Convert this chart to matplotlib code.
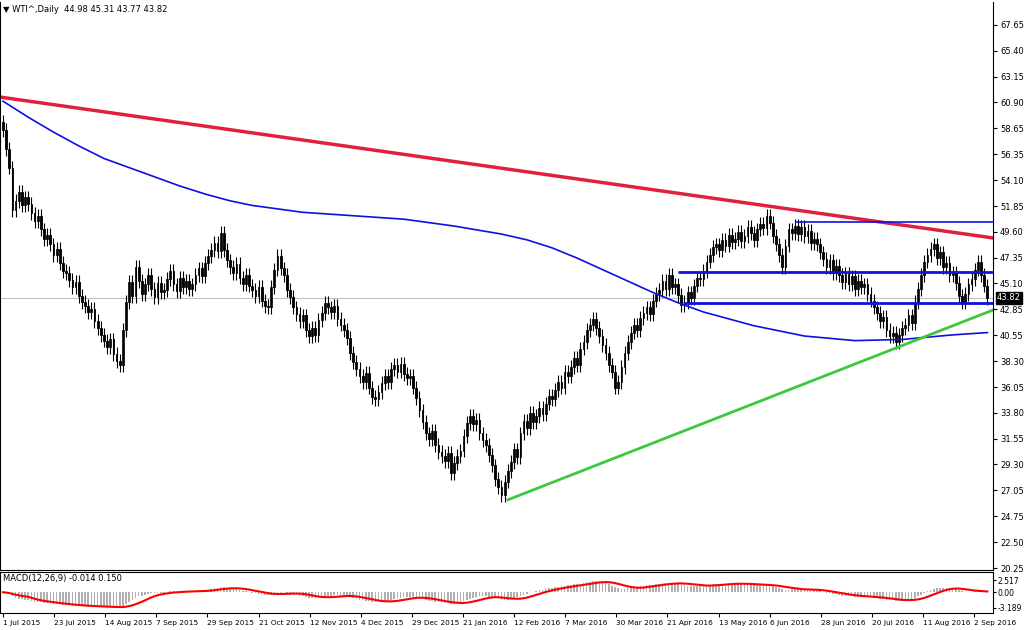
import numpy as np
import pandas as pd
import matplotlib
matplotlib.use("Agg")
import matplotlib.pyplot as plt

closes = [58.5, 56.8, 55.2, 51.5, 52.3, 53.1, 51.9, 52.6, 52.0, 51.2, 50.5, 51.0, 49.8, 49.0, 49.3,
 48.5, 47.6, 48.1, 46.9, 46.2, 46.0, 45.4, 44.8, 45.2, 44.0, 43.5, 43.1, 42.6, 42.9, 41.8, 41.2, 40.6, 40.1,
 39.5, 40.2, 38.9, 38.3, 38.0, 41.0, 43.5, 45.2, 44.0, 46.5, 45.3, 44.2, 45.0, 45.8, 44.6, 43.9, 45.1, 44.3, 44.5,
 45.5, 46.2, 45.0, 44.4, 45.6, 44.8, 45.3, 44.6, 45.0, 45.8, 46.4, 45.7, 46.9, 47.5, 48.0, 48.6, 47.9, 49.5,
 48.0, 47.1, 46.5, 46.0, 46.8, 45.6, 45.0, 45.8, 44.9, 44.5, 44.0, 44.8, 43.6, 43.1, 43.0, 44.8, 46.3, 47.5,
 46.4, 45.8, 44.5, 43.9, 43.0, 42.4, 41.8, 42.3, 41.0, 40.5, 41.2, 40.6, 41.9, 42.5, 43.4, 43.0,
 42.6, 43.1, 42.0, 41.5, 41.0, 40.3, 39.0, 38.2, 37.6, 37.0, 36.5, 37.3, 36.0, 35.2, 35.0,
 35.6, 36.4, 37.0, 36.5, 37.6, 38.0, 37.4, 38.1, 37.2, 36.8, 37.0, 36.0, 35.1, 34.0, 33.0, 32.0,
 31.5, 32.2, 31.0, 30.4, 30.0, 29.6, 30.3, 28.5, 29.4, 30.0, 30.5, 31.8, 32.9, 33.5, 32.8, 33.2, 32.0, 31.4, 31.0,
 30.1, 29.2, 28.0, 27.3, 26.6, 27.8, 28.7, 29.5, 30.6, 29.9, 32.0, 33.1, 32.5, 33.8, 33.0, 33.5,
 34.2, 33.7, 34.6, 35.3, 35.0, 35.8, 36.5, 36.0, 37.4, 37.0, 37.8, 38.6, 38.0, 39.4, 40.0, 41.0, 41.5, 42.0,
 41.2, 40.5, 39.7, 39.0, 38.0, 37.4, 36.0, 36.5, 37.8, 39.0, 40.0, 40.8, 41.5, 41.0, 42.1, 42.5,
 43.0, 42.4, 43.6, 44.2, 44.5, 45.3, 44.6, 45.8, 44.8, 45.0, 44.1, 43.2, 43.5, 44.3, 43.8, 44.9, 45.6, 45.5,
 46.2, 47.0, 47.6, 48.3, 48.5, 48.0, 48.9, 48.4, 49.3, 48.7, 49.0, 49.6, 48.8, 49.2, 50.0, 49.5,
 48.9, 49.8, 50.3, 49.9, 51.0, 50.4, 49.2, 48.5, 47.6, 46.5, 48.4, 49.8, 49.5, 50.1, 49.4, 50.0,
 49.2, 49.7, 48.6, 49.0, 48.5, 47.8, 47.2, 46.5, 47.1, 46.0, 46.6, 45.8, 45.2, 45.9, 45.0,
 45.7, 44.6, 45.3, 44.8, 45.0, 44.2, 43.6, 43.0, 42.5, 41.8, 42.2, 41.0, 40.5, 40.8, 40.0,
 40.6, 41.2, 41.5, 42.3, 41.6, 43.5, 44.6, 45.8, 47.0, 47.6, 48.1, 48.5, 47.3, 47.8, 46.5,
 46.9, 45.8, 46.0, 45.1, 44.0, 43.5, 44.2, 45.0, 45.5, 46.3, 47.0, 45.8, 44.9, 43.82]

ma_x = [0, 8, 16, 24, 32, 40, 48, 56, 64, 72, 79, 95, 111, 127, 143, 158, 166, 174, 182, 190, 198, 206,
        214, 222, 238, 254, 270, 285, 301, 312]
ma_y = [61.0, 59.6, 58.3, 57.1, 56.0, 55.2, 54.4, 53.6, 52.9, 52.3, 51.9, 51.3, 51.0, 50.7, 50.1, 49.4,
        48.9, 48.2, 47.3, 46.3, 45.3, 44.3, 43.4, 42.6, 41.4, 40.5, 40.1, 40.2, 40.6, 40.8]

date_labels = ["1 Jul 2015", "23 Jul 2015", "14 Aug 2015", "7 Sep 2015", "29 Sep 2015", "21 Oct 2015",
               "12 Nov 2015", "4 Dec 2015", "29 Dec 2015", "21 Jan 2016", "12 Feb 2016", "7 Mar 2016",
               "30 Mar 2016", "21 Apr 2016", "13 May 2016", "6 Jun 2016", "28 Jun 2016", "20 Jul 2016",
               "11 Aug 2016", "2 Sep 2016"]
price_labels = ["20.25", "22.50", "24.75", "27.05", "29.30", "31.55", "33.80", "36.05", "38.30", "40.55",
                "42.85", "45.10", "47.35", "49.60", "51.85", "54.10", "56.35", "58.65", "60.90", "63.15",
                "65.40", "67.65"]

c = np.array(closes)
n = len(c)
o = np.r_[59.2, c[:-1]]
hi = np.maximum(o, c) + 0.6
lo = np.minimum(o, c) - 0.6
x = np.arange(n)

W, H = 1024, 630
fig = plt.figure(figsize=(W/100, H/100), dpi=100)
pxw = 3.155
x0 = -3/pxw
x1 = x0 + 993/pxw

ax = fig.add_axes([0, (H-570)/H, 993/W, 568/H])
ax.set_xlim(x0, x1)
k = 47.4/543
ax.set_ylim(20.25 - 2*k, 67.65 + 23*k)

up = c >= o
ax.vlines(x, lo, hi, color="black", lw=0.8)
ax.bar(x[up], (c-o)[up], bottom=o[up], width=0.55, color="white", edgecolor="black", lw=0.6)
ax.bar(x[~up], (o-c)[~up], bottom=c[~up], width=0.55, color="black", edgecolor="black", lw=0.6)

ax.plot(ma_x, ma_y, color="#1010e0", lw=1.2)
ax.plot([x0, x1], [61.36, 49.06], color="#e0203f", lw=2.5)
ax.plot([160, x1], [26.2, 42.77], color="#3cc83c", lw=2)
ax.hlines([50.45], 251, x1, color="#1010e0", lw=1.2)
ax.hlines([46.09], 214, x1, color="#1010e0", lw=2)
ax.hlines([43.38], 215.5, x1, color="#1010e0", lw=2)
ax.axhline(c[-1], color="#c0c0c0", lw=0.8, zorder=0)

pv = [float(p) for p in price_labels]
ax.yaxis.tick_right()
ax.set_yticks(pv)
ax.set_yticklabels(price_labels, fontsize=6)
ax.tick_params(axis="y", length=3, pad=2)
ax.set_xticks([])
ax.spines["top"].set_visible(False)
ax.text(x1 + 1.2, c[-1], "%.2f" % c[-1], fontsize=6, color="white", va="center", ha="left",
        bbox=dict(boxstyle="square,pad=0.15", fc="black", ec="black"))
ax.text(0.003, 0.995, "▼ WTI^,Daily  44.98 45.31 43.77 43.82", transform=ax.transAxes,
        fontsize=6, va="top", ha="left")

s = pd.Series(c)
macd = s.ewm(span=12, adjust=False).mean() - s.ewm(span=26, adjust=False).mean()
sig = macd.rolling(9, min_periods=1).mean()
ax2 = fig.add_axes([0, (H-613)/H, 993/W, 41/H])
ax2.set_xlim(x0, x1)
ax2.set_ylim(-4.3, 4.2)
ax2.bar(x, macd, width=0.5, color="#b0b0b0")
ax2.plot(x, sig, color="#ff0000", lw=1.5)
ax2.yaxis.tick_right()
ax2.set_yticks([-3.189, 0.0, 2.517])
ax2.set_yticklabels(["-3.189", "0.00", "2.517"], fontsize=5.5)
ax2.tick_params(axis="y", length=2, pad=1)
ax2.text(0.003, 0.95, "MACD(12,26,9) -0.014 0.150", transform=ax2.transAxes, fontsize=6, va="top")
tpos = [i*16.2 for i in range(len(date_labels))]
ax2.set_xticks(tpos)
ax2.set_xticklabels(date_labels, fontsize=5.3, ha="left")
ax2.tick_params(axis="x", length=3, pad=2)

fig.savefig("out.png", dpi=100, facecolor="white")
